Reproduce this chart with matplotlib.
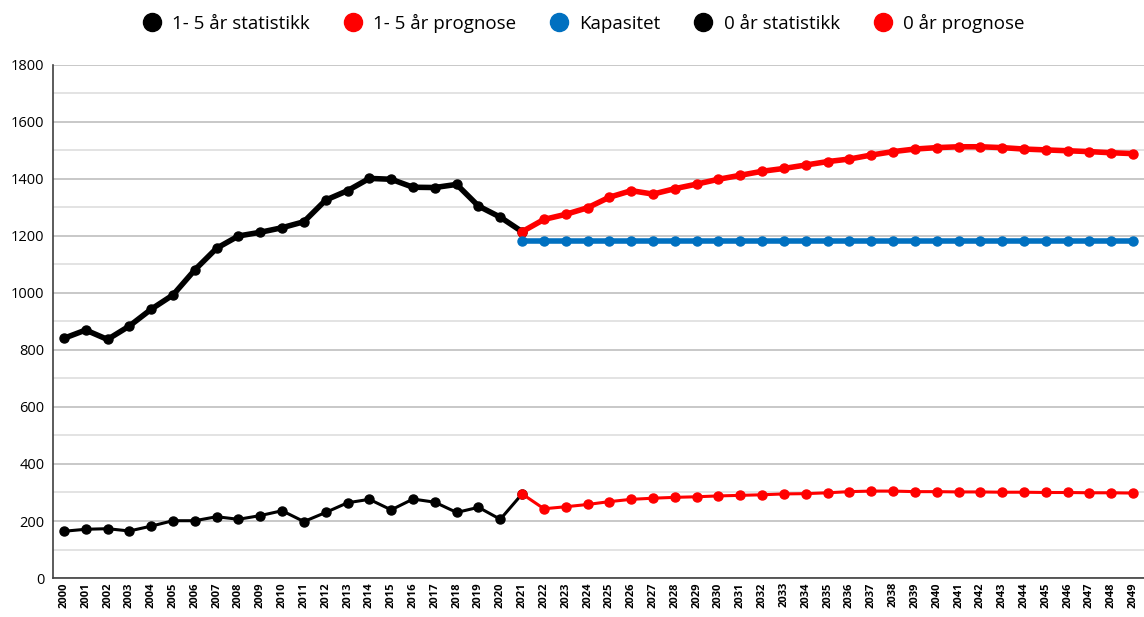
import matplotlib
matplotlib.use('Agg')
import matplotlib.pyplot as plt
import numpy as np

plt.rcParams['font.family'] = ['Open Sans', 'DejaVu Sans']

years = np.arange(2000, 2050)

# 1-5 years, statistics 2000-2021
stat_15 = [841, 870, 837, 884, 943, 993, 1081, 1157, 1200, 1213, 1229,
           1250, 1326, 1359, 1402, 1399, 1371, 1370, 1381, 1305, 1266, 1215]
# 1-5 years, forecast 2021-2049
prog_15 = [1215, 1258, 1276, 1299, 1336, 1359, 1347, 1366, 1382, 1399,
           1413, 1427, 1437, 1449, 1461, 1470, 1484, 1496, 1505, 1510,
           1513, 1513, 1510, 1505, 1502, 1499, 1496, 1492, 1489]
# capacity 2021-2049
kapasitet = [1183] * 29
# 0 years, statistics 2000-2021
stat_0 = [164, 171, 173, 165, 182, 201, 201, 215, 206, 219, 236,
          198, 230, 264, 276, 239, 277, 266, 230, 248, 206, 295]
# 0 years, forecast 2021-2049
prog_0 = [295, 243, 250, 258, 268, 276, 280, 283, 285, 288,
          290, 292, 295, 296, 299, 303, 305, 305, 303, 303,
          302, 302, 301, 301, 300, 300, 299, 299, 298]

labels = ['1- 5 år statistikk', '1- 5 år prognose', 'Kapasitet',
          '0 år statistikk', '0 år prognose']
colors = ['black', '#ff0000', '#0070c0', 'black', '#ff0000']

fig = plt.figure(figsize=(11.44, 6.17), dpi=100)
ax = fig.add_axes([0.0463, 0.0632, 0.9537, 0.8315])

ax.plot(years[:22], stat_15, color=colors[0], lw=4, marker='o', ms=6.5)
ax.plot(years[21:], prog_15, color=colors[1], lw=4, marker='o', ms=6.5)
ax.plot(years[21:], kapasitet, color=colors[2], lw=4, marker='o', ms=6.5)
ax.plot(years[:22], stat_0, color=colors[3], lw=2.2, marker='o', ms=6.5)
ax.plot(years[21:], prog_0, color=colors[4], lw=2.2, marker='o', ms=6.5)

ax.set_xlim(1999.5, 2049.5)
ax.set_ylim(0, 1800)
ax.set_yticks(np.arange(0, 1801, 200))
ax.set_yticks(np.arange(0, 1801, 100), minor=True)
ax.set_xticks(years)
ax.set_xticklabels([str(y) for y in years], rotation=90, fontsize=8, fontweight='bold')
ax.tick_params(axis='x', length=0, pad=3)
ax.tick_params(axis='y', which='both', length=0, labelsize=10.5, pad=6)

ax.grid(axis='y', which='major', color='#bfbfbf', lw=1.2)
ax.grid(axis='y', which='minor', color='#dedede', lw=1.2)
ax.set_axisbelow(True)

for s in ['top', 'right']:
    ax.spines[s].set_visible(False)
ax.spines['left'].set_color('#404040')
ax.spines['bottom'].set_color('#404040')
ax.spines['left'].set_linewidth(1.2)
ax.spines['bottom'].set_linewidth(1.2)

handles = [plt.Line2D([], [], ls='none', marker='o', ms=13, color=c) for c in colors]
fig.legend(handles, labels, loc='upper center', bbox_to_anchor=(0.506, 1.005),
           ncol=5, frameon=False, fontsize=13.5, handletextpad=0.1,
           columnspacing=1.27)

fig.savefig('out.png', dpi=100)
